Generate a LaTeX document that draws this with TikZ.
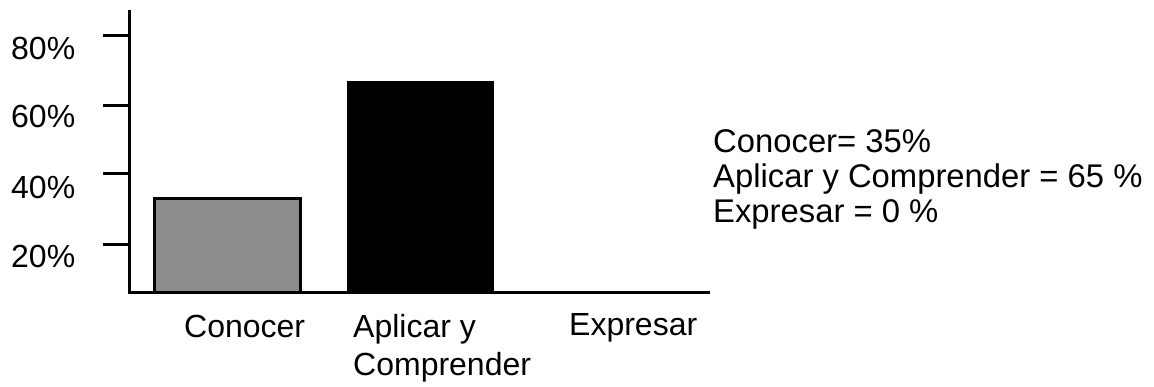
\documentclass[tikz,border=0pt]{standalone}
\usepackage{fontspec}
\setmainfont{Liberation Sans}
\begin{document}
\begin{tikzpicture}[x=1pt,y=-1pt,
  lbl/.style={anchor=base west,inner sep=0pt,font=\fontsize{32}{38}\selectfont},
  leg/.style={lbl,font=\fontsize{32.8}{38}\selectfont},
  axisline/.style={line width=3pt,line cap=butt},
  tickline/.style={line width=3pt}]
\useasboundingbox (0,0) rectangle (1154,386);
% axes
\coordinate (ytop) at (129,10);
\coordinate (orig) at (129,292);
\coordinate (xend) at (710,292);
\draw[axisline] (ytop) -- ([yshift=1.5pt]orig) ;
\draw[axisline] ([xshift=-1.5pt]orig) -- (xend);
% ticks
\foreach \y/\n in {35/t80,105/t60,173/t40,244/t20}{
  \coordinate (\n a) at (103,\y);
  \coordinate (\n b) at (129,\y);
  \draw[tickline] (\n a) -- (\n b);
}
% tick labels
\node[lbl] (l80) at (11,59) {80\%};
\node[lbl] (l60) at (11,127) {60\%};
\node[lbl] (l40) at (11,198) {40\%};
\node[lbl] (l20) at (11,267) {20\%};
% bars
\draw[line width=3pt,fill=black!45] (154.5,198.5) rectangle (300.5,292);
\fill[black] (347,81) rectangle (494,292);
% category labels
\node[lbl] (c1) at (184,337) {Conocer};
\node[lbl] (c2) at (353,337) {Aplicar y};
\node[lbl] (c2b) at (353,375) {Comprender};
\node[lbl] (c3) at (569,335) {Expresar};
% legend text
\node[leg] (g1) at (713,152) {Conocer= 35\%};
\node[leg] (g2) at (713,187) {Aplicar y Comprender = 65 \%};
\node[leg] (g3) at (713,222) {Expresar = 0 \%};
\end{tikzpicture}
\end{document}
